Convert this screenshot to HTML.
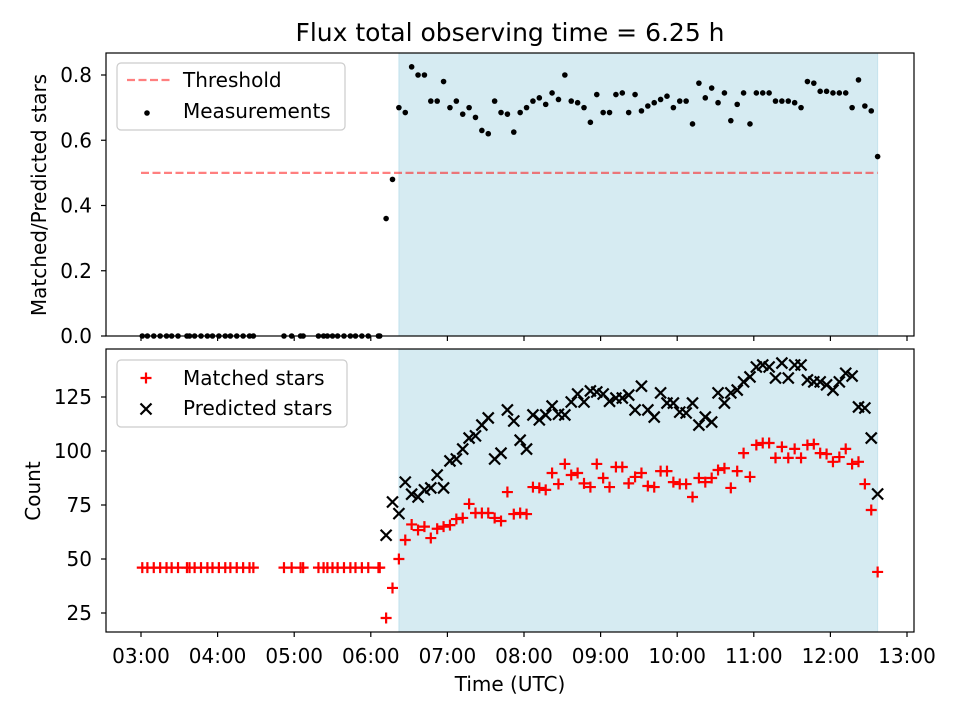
<!DOCTYPE html>
<html><head><meta charset="utf-8"><style>
html,body{margin:0;padding:0;background:#fff;}
svg{display:block;font-family:"DejaVu Sans","Liberation Sans",sans-serif;}
</style></head><body>
<svg id="chart" width="960" height="720" viewBox="0 0 960 720" xmlns="http://www.w3.org/2000/svg">
<rect width="960" height="720" fill="#fff"/>
<g id="top"></g>
<g id="bot"></g>
<text x="510" y="41" text-anchor="middle" font-size="25">Flux total observing time = 6.25 h</text>
<text x="510" y="691" text-anchor="middle" font-size="20">Time (UTC)</text>
<text transform="translate(46,195) rotate(-90)" text-anchor="middle" font-size="20">Matched/Predicted stars</text>
<text transform="translate(40,491) rotate(-90)" text-anchor="middle" font-size="20">Count</text>
</svg>
<script>
const times = ["03:01","03:05","03:10","03:15","03:20","03:24","03:29","03:36","03:38","03:42","03:47","03:52","03:56","04:01","04:06","04:10","04:15","04:20","04:25","04:28","04:52","04:58","05:05","05:07","05:19","05:23","05:26","05:30","05:34","05:39","05:44","05:48","05:53","05:58","06:06","06:07",
"06:12","06:17","06:22","06:27","06:32","06:37","06:42","06:47","06:52","06:57","07:02","07:07","07:12","07:17","07:22","07:27","07:32","07:37","07:42","07:47","07:52","07:57","08:02","08:07","08:12","08:17","08:22","08:27","08:32","08:37","08:42","08:47","08:52","08:57","09:02","09:07","09:12","09:17","09:22","09:27","09:32","09:37","09:42","09:47","09:52","09:57","10:02","10:07","10:12","10:17","10:22","10:27","10:32","10:37","10:42","10:47","10:52","10:57","11:02","11:07","11:12","11:17","11:22","11:27","11:32","11:37","11:42","11:47","11:52","11:57","12:02","12:07","12:12","12:17","12:22","12:27","12:32","12:37"];
const ratio = [0,0,0,0,0,0,0,0,0,0,0,0,0,0,0,0,0,0,0,0,0,0,0,0,0,0,0,0,0,0,0,0,0,0,0,0,
0.36,0.48,0.70,0.685,0.825,0.80,0.80,0.72,0.72,0.78,0.70,0.72,0.68,0.70,0.67,0.63,0.62,0.72,0.685,0.68,0.625,0.685,0.70,0.72,0.73,0.71,0.745,0.725,0.80,0.72,0.715,0.70,0.655,0.74,0.685,0.685,0.74,0.745,0.685,0.74,0.69,0.705,0.715,0.725,0.735,0.70,0.72,0.72,0.65,0.775,0.73,0.76,0.715,0.745,0.66,0.71,0.745,0.65,0.745,0.745,0.745,0.72,0.72,0.72,0.715,0.70,0.78,0.775,0.75,0.75,0.745,0.745,0.745,0.70,0.785,0.705,0.69,0.55];
const matched = [46,46,46,46,46,46,46,46,46,46,46,46,46,46,46,46,46,46,46,46,46,46,46,46,46,46,46,46,46,46,46,46,46,46,46,46,
22.7,36.6,50,58.8,66,63.4,65,59.7,64,65,65.7,68.5,69,75.5,71.3,71.3,71.3,69,67.6,81,70.8,71.3,70.8,83.3,82.9,82,89.8,84.7,94,88.9,89.8,85,83.3,94,87.5,83.3,92.6,92.6,85,88,89.8,83.8,83.3,90.7,90.7,85.6,84.7,84.7,78.7,87.5,85.6,87.5,91.2,92,82.9,90.7,99,88,102.8,103.7,103.7,96.8,101.9,96.8,101,96.8,102.8,103.2,99,98.6,95,97.2,101,94,95,84.7,72.7,44];
const predicted = [null,null,null,null,null,null,null,null,null,null,null,null,null,null,null,null,null,null,null,null,null,null,null,null,null,null,null,null,null,null,null,null,null,null,null,null,
61,76.4,71,85.6,80,78.7,82,82.9,88.9,82.9,95.4,96.3,100.9,106,107,112,115.3,96.3,99,119,113.9,105,100.9,116.7,114.4,116.7,120.8,117,116.7,122.7,126.4,122.7,127.8,127.3,126.4,123,124.5,124.5,125.9,119,130,119,115.7,126.9,122.2,122.2,118,117.6,122.2,112,115.7,113.4,126.9,122.2,126.9,128.2,132,134.3,138.9,139.8,138.9,133.8,140.7,133.8,139.8,139.8,132.9,132,132,130.6,128.2,132,136,134.7,120.4,119.9,106,80.1];
const xTickLabels = ["03:00","04:00","05:00","06:00","07:00","08:00","09:00","10:00","11:00","12:00","13:00"];
const topYTicks = [0.0,0.2,0.4,0.6,0.8];
const botYTicks = [25,50,75,100,125];
const threshold = 0.5;
const thresholdSpan = ["03:00","12:37"];
const observeSpan = ["06:22","12:37"];

const NS="http://www.w3.org/2000/svg";
const FS=20;
function mk(p,tag,a){const e=document.createElementNS(NS,tag);for(const k in a)e.setAttribute(k,a[k]);p.appendChild(e);return e;}
function hrs(t){const [h,m]=t.split(":").map(Number);return h+m/60;}
const X0=106,X1=914,T0=3-35/76.6,T1=13+7/76.6;
function xs(t){return X0+(hrs(t)-T0)/(T1-T0)*(X1-X0);}
const topP={y0:53,y1:336,v0:0,v1:0.8,p0:336,p1:75};
const botP={y0:349,y1:632,v0:25,v1:125,p0:613,p1:397};
function ys(P,v){return P.p0+(v-P.v0)/(P.v1-P.v0)*(P.p1-P.p0);}

function frame(g,P,yt,fmt,labels){
  const sx=xs(observeSpan[0]),ex=xs(observeSpan[1]);
  const sp=mk(g,"rect",{x:sx,y:P.y0,width:ex-sx,height:P.y1-P.y0,fill:"#add8e6","fill-opacity":0.5,stroke:"#add8e6","stroke-opacity":0.6});
  
  
  xTickLabels.forEach(l=>{
    const x=xs(l);
    const tk=mk(g,"line",{x1:x,x2:x,y1:P.y1,y2:P.y1+5,stroke:"#000","stroke-width":1.2});
    
    
    if(labels){
      const tx=mk(g,"text",{x:x,y:P.y1+31,"text-anchor":"middle","font-size":FS});
      tx.textContent=l;
      
      
    }
  });
  yt.forEach(v=>{
    const y=ys(P,v);
    const tk=mk(g,"line",{x1:X0-5,x2:X0,y1:y,y2:y,stroke:"#000","stroke-width":1.2});
    
    
    const tx=mk(g,"text",{x:X0-14,y:y+7,"text-anchor":"end","font-size":FS});
    tx.textContent=fmt(v);
    
    
  });
}
function border(g,P){
  const b=mk(g,"rect",{x:X0,y:P.y0,width:X1-X0,height:P.y1-P.y0,fill:"none",stroke:"#000","stroke-width":1.2});
  
  
}
function plus(g,x,y,c,s){
  return mk(g,"path",{d:`M${x-s},${y}H${x+s}M${x},${y-s}V${y+s}`,stroke:c,"stroke-width":2.2,fill:"none"});
}
function cross(g,x,y,c,s){
  return mk(g,"path",{d:`M${x-s},${y-s}L${x+s},${y+s}M${x-s},${y+s}L${x+s},${y-s}`,stroke:c,"stroke-width":2.2,fill:"none"});
}

// top panel
const gt=document.getElementById("top");
frame(gt,topP,topYTicks,v=>v.toFixed(1),false);
const th=mk(gt,"line",{x1:xs(thresholdSpan[0]),x2:xs(thresholdSpan[1]),y1:ys(topP,threshold),y2:ys(topP,threshold),stroke:"#ff0000","stroke-opacity":0.5,"stroke-width":2.2,"stroke-dasharray":"8,3.5"});


times.forEach((t,i)=>{
  if(ratio[i]==null)return;
  const c=mk(gt,"circle",{cx:xs(t),cy:ys(topP,ratio[i]),r:2.8,fill:"#000"});
  
  
});
border(gt,topP);
const lt=mk(gt,"g",{});


mk(lt,"rect",{x:117,y:63,width:228,height:67,rx:4,fill:"#fff","fill-opacity":0.8,stroke:"#ccc","stroke-width":1.2});
mk(lt,"line",{x1:127,x2:170,y1:80,y2:80,stroke:"#ff0000","stroke-opacity":0.5,"stroke-width":2.2,"stroke-dasharray":"8,3.5"});
let t1=mk(lt,"text",{x:183,y:87,"font-size":FS});t1.textContent="Threshold";


mk(lt,"circle",{cx:147,cy:113,r:2.8,fill:"#000"});
let t2=mk(lt,"text",{x:183,y:118,"font-size":FS});t2.textContent="Measurements";



// bottom panel
const gb=document.getElementById("bot");
frame(gb,botP,botYTicks,v=>String(v),true);
times.forEach((t,i)=>{
  if(matched[i]!=null){
    const p=plus(gb,xs(t),ys(botP,matched[i]),"#ff0000",5.5);
    
    
  }
});
times.forEach((t,i)=>{
  if(predicted[i]!=null){
    const p=cross(gb,xs(t),ys(botP,predicted[i]),"#000",5.5);
    
    
  }
});
border(gb,botP);
const lb=mk(gb,"g",{});


mk(lb,"rect",{x:117,y:360,width:230,height:67,rx:4,fill:"#fff","fill-opacity":0.8,stroke:"#ccc","stroke-width":1.2});
plus(lb,146,378,"#ff0000",5.5);
let t3=mk(lb,"text",{x:183,y:385,"font-size":FS});t3.textContent="Matched stars";


cross(lb,146,409,"#000",5.5);
let t4=mk(lb,"text",{x:183,y:415,"font-size":FS});t4.textContent="Predicted stars";


</script>
</body></html>
